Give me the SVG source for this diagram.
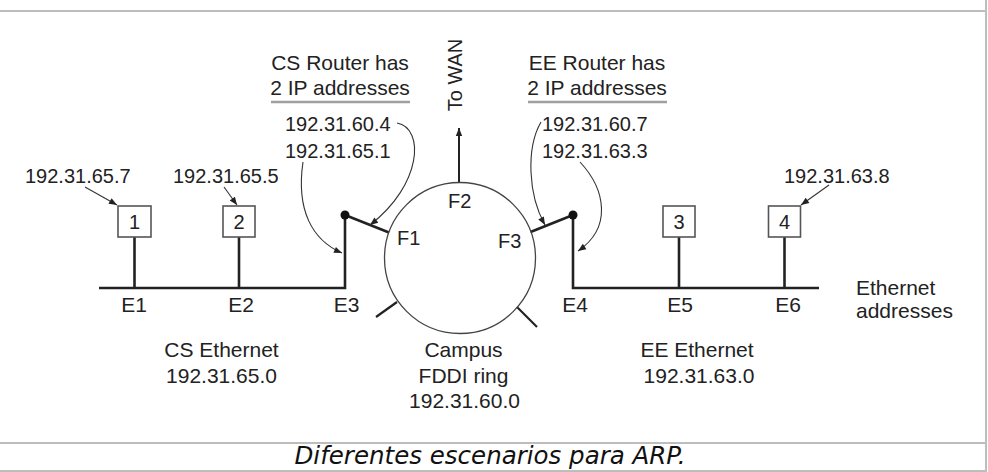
<svg xmlns="http://www.w3.org/2000/svg" width="988" height="472" viewBox="0 0 988 472">
<defs>
<marker id="ah" viewBox="0 0 10 10" refX="10" refY="5" markerWidth="10" markerHeight="8" orient="auto" markerUnits="userSpaceOnUse">
<path d="M0,1 L10,5 L0,9 z" fill="#222"/>
</marker>
</defs>
<style>
.t{font-family:"Liberation Sans",Arial,sans-serif;font-size:20px;fill:#222}
.h{font-size:21px}
.m{text-anchor:middle}
.frame{stroke:#bdbdbd;stroke-width:2;fill:none}
.bus{stroke:#222;stroke-width:2.6;fill:none}
.thin{stroke:#333;stroke-width:1.1;fill:none}
.box{fill:#fff;stroke:#555;stroke-width:1.6}
.ring{fill:none;stroke:#444;stroke-width:1.3}
.ul{stroke:#a0a0a0;stroke-width:2.5}
.cap{font-family:"DejaVu Sans",sans-serif;font-style:italic;font-size:24.5px;fill:#111;text-anchor:middle}
</style>
<rect width="988" height="472" fill="#fff"/>
<g id="frame">
<line class="frame" x1="0" y1="11" x2="986" y2="11"/>
<line class="frame" x1="986" y1="0" x2="986" y2="472"/>
<line class="frame" x1="0" y1="443" x2="986" y2="443"/>
<line class="frame" x1="0" y1="471" x2="986" y2="471"/>
</g>
<g id="connectors">
<path class="bus" d="M99,288 H345 V215"/>
<path class="bus" d="M819,288 H573 V215"/>
<line class="bus" x1="345" y1="215" x2="389" y2="232.5"/>
<line class="bus" x1="573" y1="215" x2="530.5" y2="232"/>
<line class="bus" x1="134.5" y1="237" x2="134.5" y2="288"/>
<line class="bus" x1="239" y1="237" x2="239" y2="288"/>
<line class="bus" x1="679" y1="237" x2="679" y2="288"/>
<line class="bus" x1="784.5" y1="237" x2="784.5" y2="288"/>
<line class="bus" x1="376" y1="317" x2="397" y2="302" style="stroke-width:2.2"/>
<line class="bus" x1="517" y1="307" x2="537" y2="327" style="stroke-width:2.2"/>
<line class="bus" x1="459" y1="183" x2="459" y2="128" style="stroke-width:2" marker-end="url(#ah)"/>
<path class="thin" d="M397,123 C425,128 422,185 370,225" marker-end="url(#ah)"/>
<path class="thin" d="M303,162 C296,210 312,240 342,253" marker-end="url(#ah)"/>
<path class="thin" d="M541,122 C526,148 528,195 545,225" marker-end="url(#ah)"/>
<path class="thin" d="M580,162 C606,190 612,228 578,251" marker-end="url(#ah)"/>
<path class="thin" d="M85,187 L117,205" marker-end="url(#ah)"/>
<path class="thin" d="M224,187 L237,205" marker-end="url(#ah)"/>
<path class="thin" d="M829,185 L801,205" marker-end="url(#ah)"/>
</g>
<g id="ring">
<circle class="ring" cx="460" cy="258" r="75.5"/>
<text class="t" x="397" y="245">F1</text>
<text class="t" x="448" y="208">F2</text>
<text class="t" x="498" y="248">F3</text>
<text class="t h m" x="463.5" y="357">Campus</text>
<text class="t h m" x="463.5" y="383">FDDI ring</text>
<text class="t h m" x="464.5" y="408">192.31.60.0</text>
</g>
<g id="wan">
<text class="t" transform="translate(462,75) rotate(-90)" text-anchor="middle">To WAN</text>
</g>
<g id="router-cs">
<circle cx="345" cy="215" r="4.5" fill="#111"/>
<text class="t h m" x="340" y="70">CS Router has</text>
<text class="t h m" x="340" y="95">2 IP addresses</text>
<line class="ul" x1="271" y1="102" x2="410" y2="102"/>
<text class="t" x="285" y="131">192.31.60.4</text>
<text class="t" x="285" y="158">192.31.65.1</text>
</g>
<g id="router-ee">
<circle cx="573" cy="215" r="4.5" fill="#111"/>
<text class="t h m" x="597" y="70">EE Router has</text>
<text class="t h m" x="597" y="95">2 IP addresses</text>
<line class="ul" x1="528" y1="102" x2="667" y2="102"/>
<text class="t" x="542" y="131">192.31.60.7</text>
<text class="t" x="542" y="158">192.31.63.3</text>
</g>
<g id="node1">
<rect class="box" x="118" y="206" width="33" height="31"/>
<text class="t m" x="134.5" y="229">1</text>
<text class="t" x="25" y="183">192.31.65.7</text>
</g>
<g id="node2">
<rect class="box" x="223" y="206" width="32" height="31"/>
<text class="t m" x="239" y="229">2</text>
<text class="t" x="173" y="183">192.31.65.5</text>
</g>
<g id="node3">
<rect class="box" x="663" y="206" width="32" height="31"/>
<text class="t m" x="679" y="229">3</text>
</g>
<g id="node4">
<rect class="box" x="768.5" y="206" width="32" height="31"/>
<text class="t m" x="784.5" y="229">4</text>
<text class="t" x="784" y="183">192.31.63.8</text>
</g>
<g id="labels">
<text class="t h m" x="134" y="312">E1</text>
<text class="t h m" x="241" y="312">E2</text>
<text class="t h m" x="346.5" y="312">E3</text>
<text class="t h m" x="575" y="312">E4</text>
<text class="t h m" x="680" y="312">E5</text>
<text class="t h m" x="788" y="312">E6</text>
<text class="t h" x="856" y="295">Ethernet</text>
<text class="t h" x="856" y="318">addresses</text>
<text class="t h m" x="221.5" y="357">CS Ethernet</text>
<text class="t h m" x="221.5" y="383">192.31.65.0</text>
<text class="t h m" x="697" y="357">EE Ethernet</text>
<text class="t h m" x="699" y="383">192.31.63.0</text>
</g>
<text class="cap" x="490" y="464">Diferentes escenarios para ARP.</text>
</svg>
